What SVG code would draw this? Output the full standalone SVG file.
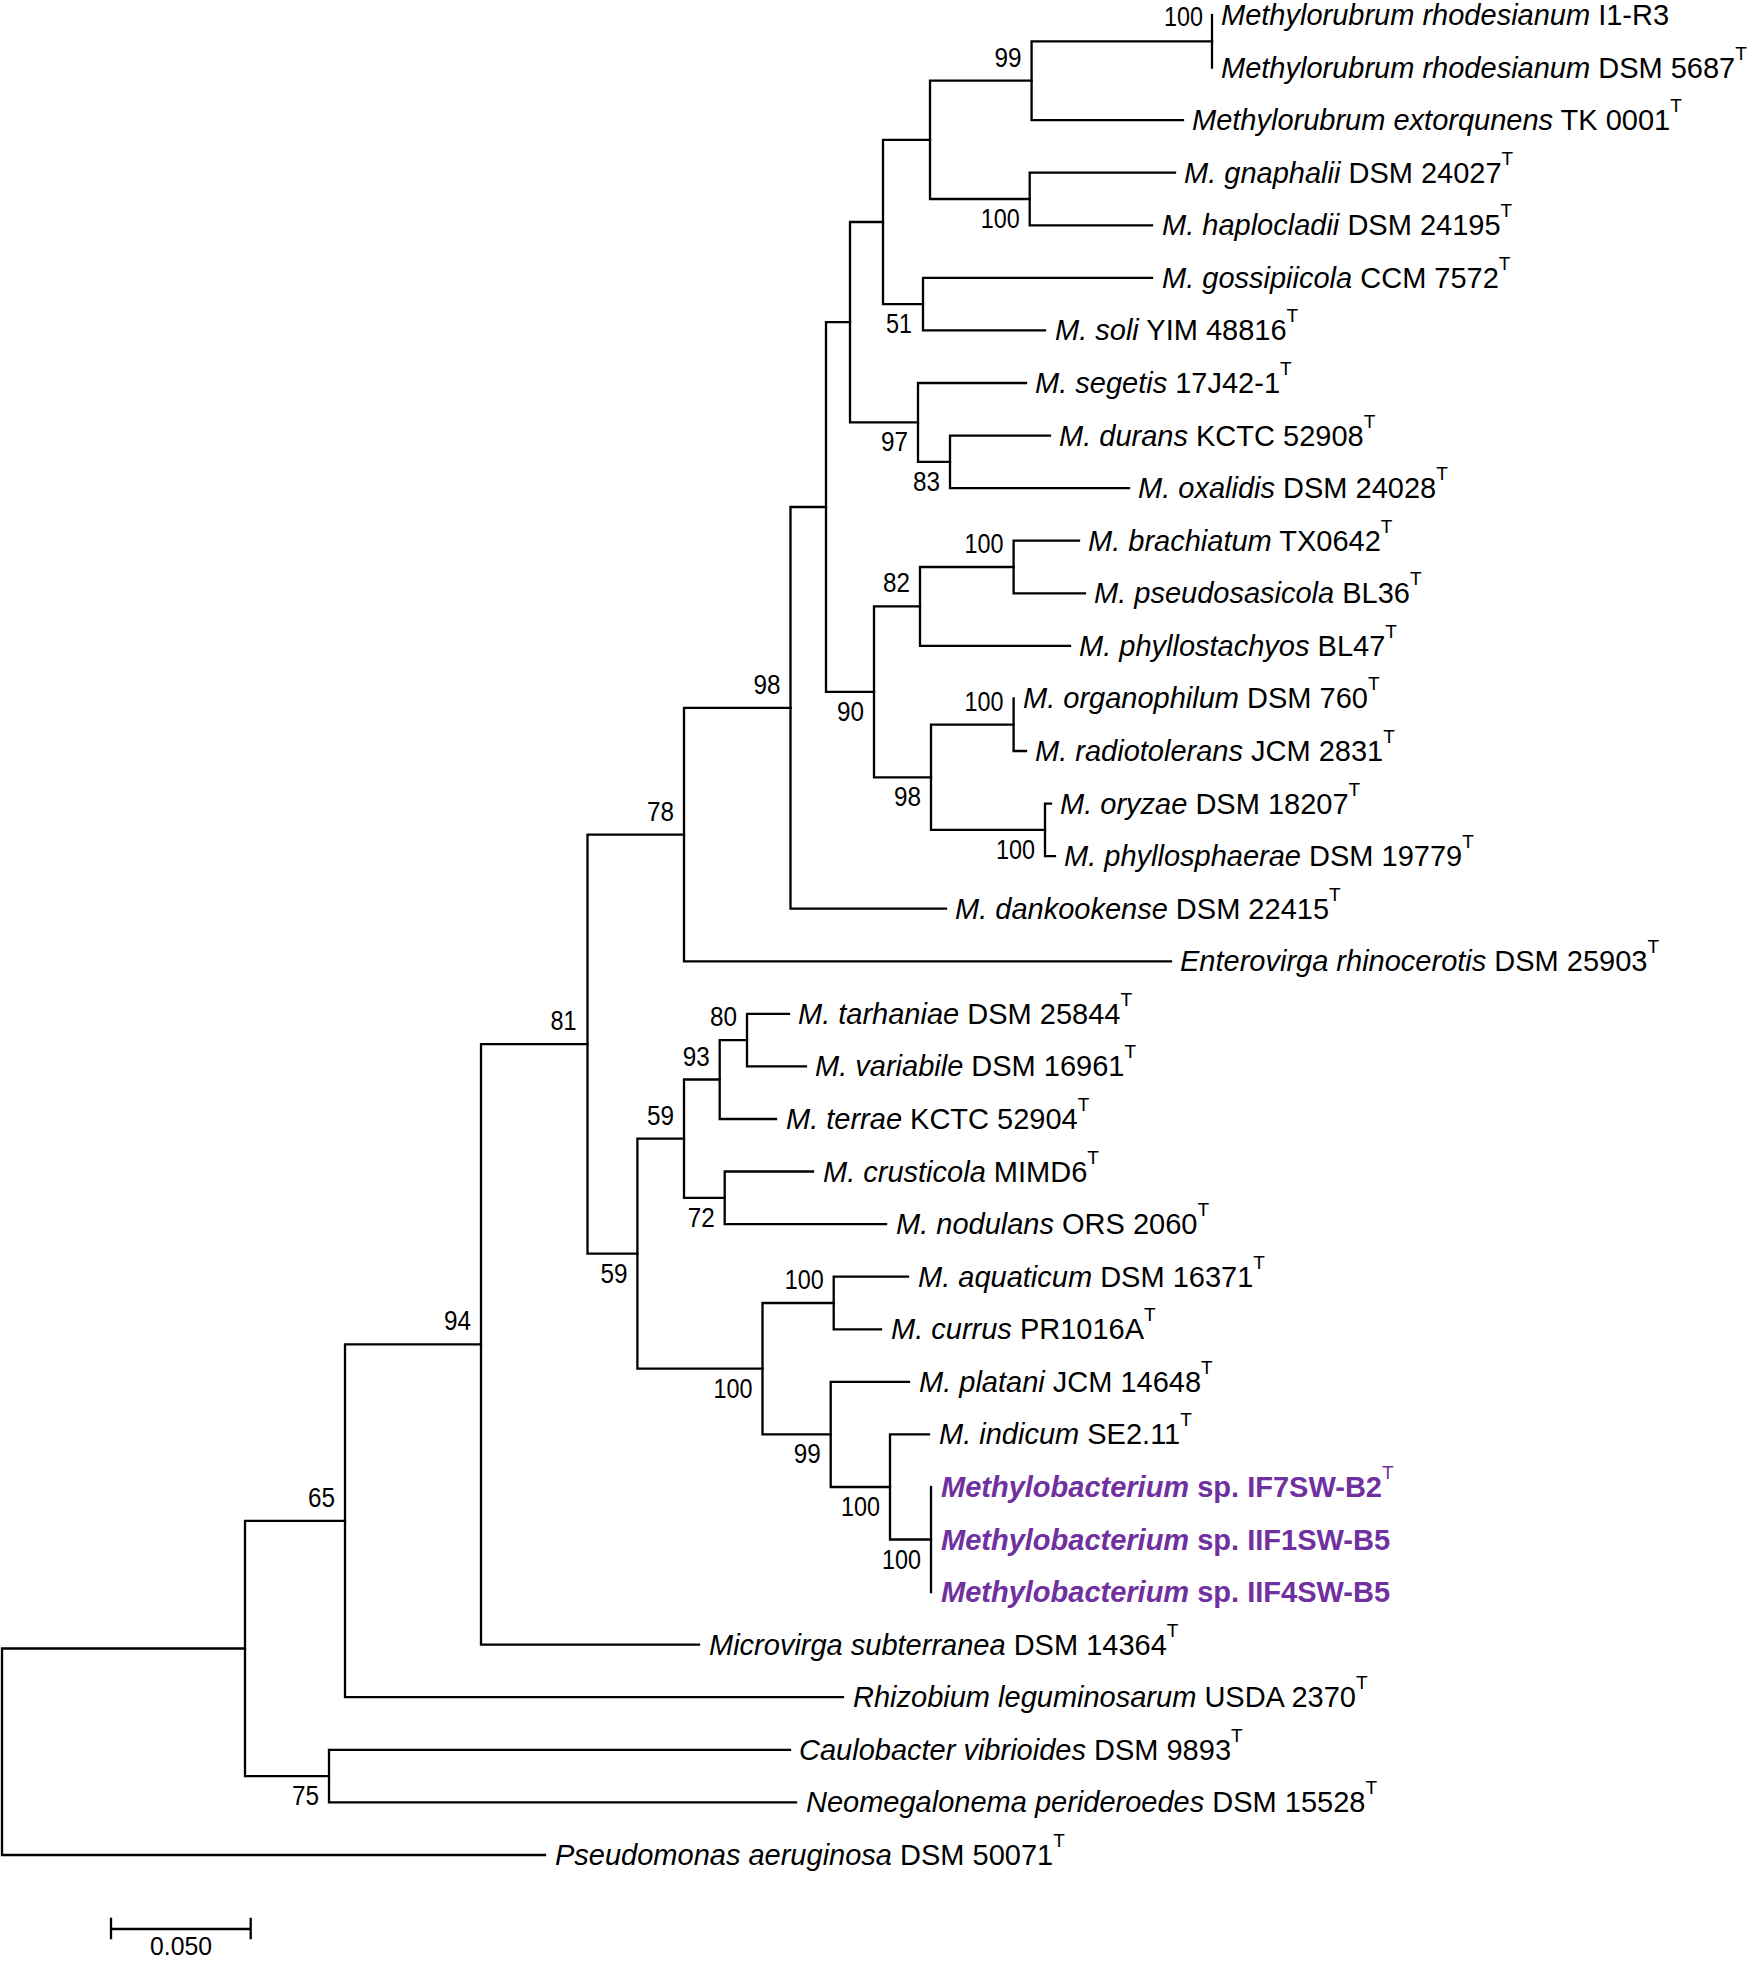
<svg xmlns="http://www.w3.org/2000/svg" width="1747" height="1962" viewBox="0 0 1747 1962">
<style>
.br{fill:none;stroke:#000;stroke-width:2.3;stroke-linecap:square}
.lf{font-family:"Liberation Sans",Arial,sans-serif;font-size:29px;fill:#000}
.i{font-style:italic}
.sup{font-size:19px;font-style:normal;font-weight:normal}
.hl{fill:#7030A0;font-weight:bold}
.bs{font-family:"Liberation Sans",Arial,sans-serif;font-size:28.5px;fill:#000}
</style>
<rect width="1747" height="1962" fill="#fff"/>
<g id="connectors" class="br">
<path d="M2 1648.5V1855M2 1648.5H245M2 1855H545"/>
<path d="M245 1520.8V1776.1M245 1520.8H345M245 1776.1H329"/>
<path d="M345 1344.4V1697.2M345 1344.4H481M345 1697.2H843"/>
<path d="M329 1749.8V1802.4M329 1749.8H790M329 1802.4H796"/>
<path d="M481 1044.2V1644.7M481 1044.2H587.5M481 1644.7H699"/>
<path d="M587.5 834.6V1253.7M587.5 834.6H684M587.5 1253.7H637.4"/>
<path d="M684 707.9V961.3M684 707.9H790.5M684 961.3H1171"/>
<path d="M790.5 507V908.7M790.5 507H826M790.5 908.7H946"/>
<path d="M826 322.2V691.8M826 322.2H850M826 691.8H874"/>
<path d="M850 222V422.4M850 222H883M850 422.4H918"/>
<path d="M883 139.9V304.2M883 139.9H930M883 304.2H923"/>
<path d="M930 80.7V199M930 80.7H1031.6M930 199H1029.7"/>
<path d="M1031.6 41.3V120.1M1031.6 41.3H1212M1031.6 120.1H1183"/>
<path d="M1212 15V67.6"/>
<path d="M1029.7 172.7V225.3M1029.7 172.7H1175M1029.7 225.3H1152"/>
<path d="M923 277.9V330.4M923 277.9H1152M923 330.4H1045"/>
<path d="M918 383V461.9M918 383H1026M918 461.9H950"/>
<path d="M950 435.6V488.1M950 435.6H1050M950 488.1H1129"/>
<path d="M874 606.4V777.3M874 606.4H920M874 777.3H931"/>
<path d="M920 567V645.8M920 567H1013.6M920 645.8H1070"/>
<path d="M1013.6 540.7V593.3M1013.6 540.7H1079M1013.6 593.3H1085"/>
<path d="M931 724.7V829.9M931 724.7H1013.6M931 829.9H1045"/>
<path d="M1013.6 698.4V751M1013.6 751H1026"/>
<path d="M1045 803.6V856.1M1045 803.6H1051M1045 856.1H1055"/>
<path d="M637.4 1138.7V1368.7M637.4 1138.7H684M637.4 1368.7H762.5"/>
<path d="M684 1079.5V1197.8M684 1079.5H719.7M684 1197.8H724.7"/>
<path d="M719.7 1040.1V1119M719.7 1040.1H747M719.7 1119H776"/>
<path d="M747 1013.8V1066.4M747 1013.8H789M747 1066.4H806"/>
<path d="M724.7 1171.5V1224.1M724.7 1171.5H813M724.7 1224.1H886"/>
<path d="M762.5 1303V1434.4M762.5 1303H833.7M762.5 1434.4H830.7"/>
<path d="M833.7 1276.7V1329.3M833.7 1276.7H908M833.7 1329.3H881"/>
<path d="M830.7 1381.8V1487M830.7 1381.8H909M830.7 1487H890"/>
<path d="M890 1434.4V1539.5M890 1434.4H929M890 1539.5H931"/>
<path d="M931 1487V1592.1"/>
</g>
<g id="bootstrap" class="bs">
<text x="1164" y="26" textLength="39" lengthAdjust="spacingAndGlyphs">100</text>
<text x="994.6" y="66.7" textLength="27" lengthAdjust="spacingAndGlyphs">99</text>
<text x="980.7" y="228" textLength="39" lengthAdjust="spacingAndGlyphs">100</text>
<text x="886" y="333.2" textLength="26" lengthAdjust="spacingAndGlyphs">51</text>
<text x="881" y="451.4" textLength="27" lengthAdjust="spacingAndGlyphs">97</text>
<text x="913" y="490.9" textLength="27" lengthAdjust="spacingAndGlyphs">83</text>
<text x="964.6" y="553" textLength="39" lengthAdjust="spacingAndGlyphs">100</text>
<text x="883" y="592.4" textLength="27" lengthAdjust="spacingAndGlyphs">82</text>
<text x="964.6" y="710.7" textLength="39" lengthAdjust="spacingAndGlyphs">100</text>
<text x="996" y="858.9" textLength="39" lengthAdjust="spacingAndGlyphs">100</text>
<text x="894" y="806.3" textLength="27" lengthAdjust="spacingAndGlyphs">98</text>
<text x="837" y="720.8" textLength="27" lengthAdjust="spacingAndGlyphs">90</text>
<text x="753.5" y="693.9" textLength="27" lengthAdjust="spacingAndGlyphs">98</text>
<text x="647" y="820.6" textLength="27" lengthAdjust="spacingAndGlyphs">78</text>
<text x="710" y="1026" textLength="27" lengthAdjust="spacingAndGlyphs">80</text>
<text x="682.7" y="1065.5" textLength="27" lengthAdjust="spacingAndGlyphs">93</text>
<text x="647" y="1124.7" textLength="27" lengthAdjust="spacingAndGlyphs">59</text>
<text x="687.7" y="1226.8" textLength="27" lengthAdjust="spacingAndGlyphs">72</text>
<text x="600.4" y="1282.7" textLength="27" lengthAdjust="spacingAndGlyphs">59</text>
<text x="784.7" y="1289" textLength="39" lengthAdjust="spacingAndGlyphs">100</text>
<text x="713.5" y="1397.7" textLength="39" lengthAdjust="spacingAndGlyphs">100</text>
<text x="793.7" y="1463.4" textLength="27" lengthAdjust="spacingAndGlyphs">99</text>
<text x="841" y="1516" textLength="39" lengthAdjust="spacingAndGlyphs">100</text>
<text x="882" y="1568.5" textLength="39" lengthAdjust="spacingAndGlyphs">100</text>
<text x="550.5" y="1030" textLength="26" lengthAdjust="spacingAndGlyphs">81</text>
<text x="444" y="1330.4" textLength="27" lengthAdjust="spacingAndGlyphs">94</text>
<text x="308" y="1506.8" textLength="27" lengthAdjust="spacingAndGlyphs">65</text>
<text x="292" y="1805" textLength="27" lengthAdjust="spacingAndGlyphs">75</text>
</g>
<g id="taxa" class="lf">
<g id="t1"><text x="1221" y="25"><tspan class="i">Methylorubrum rhodesianum</tspan> I1-R3</text></g>
<g id="t2"><text x="1221" y="77.6"><tspan class="i">Methylorubrum rhodesianum</tspan> DSM 5687<tspan class="sup" dy="-18">T</tspan></text></g>
<g id="t3"><text x="1192" y="130.1"><tspan class="i">Methylorubrum extorqunens</tspan> TK 0001<tspan class="sup" dy="-18">T</tspan></text></g>
<g id="t4"><text x="1184" y="182.7"><tspan class="i">M. gnaphalii</tspan> DSM 24027<tspan class="sup" dy="-18">T</tspan></text></g>
<g id="t5"><text x="1162" y="235.3"><tspan class="i">M. haplocladii</tspan> DSM 24195<tspan class="sup" dy="-18">T</tspan></text></g>
<g id="t6"><text x="1162" y="287.9"><tspan class="i">M. gossipiicola</tspan> CCM 7572<tspan class="sup" dy="-18">T</tspan></text></g>
<g id="t7"><text x="1055" y="340.4"><tspan class="i">M. soli</tspan> YIM 48816<tspan class="sup" dy="-18">T</tspan></text></g>
<g id="t8"><text x="1035" y="393"><tspan class="i">M. segetis</tspan> 17J42-1<tspan class="sup" dy="-18">T</tspan></text></g>
<g id="t9"><text x="1059" y="445.6"><tspan class="i">M. durans</tspan> KCTC 52908<tspan class="sup" dy="-18">T</tspan></text></g>
<g id="t10"><text x="1138" y="498.1"><tspan class="i">M. oxalidis</tspan> DSM 24028<tspan class="sup" dy="-18">T</tspan></text></g>
<g id="t11"><text x="1088" y="550.7"><tspan class="i">M. brachiatum</tspan> TX0642<tspan class="sup" dy="-18">T</tspan></text></g>
<g id="t12"><text x="1094" y="603.3"><tspan class="i">M. pseudosasicola</tspan> BL36<tspan class="sup" dy="-18">T</tspan></text></g>
<g id="t13"><text x="1079" y="655.8"><tspan class="i">M. phyllostachyos</tspan> BL47<tspan class="sup" dy="-18">T</tspan></text></g>
<g id="t14"><text x="1023" y="708.4"><tspan class="i">M. organophilum</tspan> DSM 760<tspan class="sup" dy="-18">T</tspan></text></g>
<g id="t15"><text x="1035" y="761"><tspan class="i">M. radiotolerans</tspan> JCM 2831<tspan class="sup" dy="-18">T</tspan></text></g>
<g id="t16"><text x="1060" y="813.6"><tspan class="i">M. oryzae</tspan> DSM 18207<tspan class="sup" dy="-18">T</tspan></text></g>
<g id="t17"><text x="1064" y="866.1"><tspan class="i">M. phyllosphaerae</tspan> DSM 19779<tspan class="sup" dy="-18">T</tspan></text></g>
<g id="t18"><text x="955" y="918.7"><tspan class="i">M. dankookense</tspan> DSM 22415<tspan class="sup" dy="-18">T</tspan></text></g>
<g id="t19"><text x="1180" y="971.3"><tspan class="i">Enterovirga rhinocerotis</tspan> DSM 25903<tspan class="sup" dy="-18">T</tspan></text></g>
<g id="t20"><text x="798" y="1023.8"><tspan class="i">M. tarhaniae</tspan> DSM 25844<tspan class="sup" dy="-18">T</tspan></text></g>
<g id="t21"><text x="815" y="1076.4"><tspan class="i">M. variabile</tspan> DSM 16961<tspan class="sup" dy="-18">T</tspan></text></g>
<g id="t22"><text x="786" y="1129"><tspan class="i">M. terrae</tspan> KCTC 52904<tspan class="sup" dy="-18">T</tspan></text></g>
<g id="t23"><text x="823" y="1181.5"><tspan class="i">M. crusticola</tspan> MIMD6<tspan class="sup" dy="-18">T</tspan></text></g>
<g id="t24"><text x="896" y="1234.1"><tspan class="i">M. nodulans</tspan> ORS 2060<tspan class="sup" dy="-18">T</tspan></text></g>
<g id="t25"><text x="918" y="1286.7"><tspan class="i">M. aquaticum</tspan> DSM 16371<tspan class="sup" dy="-18">T</tspan></text></g>
<g id="t26"><text x="891" y="1339.3"><tspan class="i">M. currus</tspan> PR1016A<tspan class="sup" dy="-18">T</tspan></text></g>
<g id="t27"><text x="919" y="1391.8"><tspan class="i">M. platani</tspan> JCM 14648<tspan class="sup" dy="-18">T</tspan></text></g>
<g id="t28"><text x="939" y="1444.4"><tspan class="i">M. indicum</tspan> SE2.11<tspan class="sup" dy="-18">T</tspan></text></g>
<g id="t29"><text x="941" y="1497" class="hl"><tspan class="i">Methylobacterium</tspan> sp. IF7SW-B2<tspan class="sup" dy="-18">T</tspan></text></g>
<g id="t30"><text x="941" y="1549.5" class="hl"><tspan class="i">Methylobacterium</tspan> sp. IIF1SW-B5</text></g>
<g id="t31"><text x="941" y="1602.1" class="hl"><tspan class="i">Methylobacterium</tspan> sp. IIF4SW-B5</text></g>
<g id="t32"><text x="709" y="1654.7"><tspan class="i">Microvirga subterranea</tspan> DSM 14364<tspan class="sup" dy="-18">T</tspan></text></g>
<g id="t33"><text x="853" y="1707.2"><tspan class="i">Rhizobium leguminosarum</tspan> USDA 2370<tspan class="sup" dy="-18">T</tspan></text></g>
<g id="t34"><text x="799" y="1759.8"><tspan class="i">Caulobacter vibrioides</tspan> DSM 9893<tspan class="sup" dy="-18">T</tspan></text></g>
<g id="t35"><text x="806" y="1812.4"><tspan class="i">Neomegalonema perideroedes</tspan> DSM 15528<tspan class="sup" dy="-18">T</tspan></text></g>
<g id="t36"><text x="555" y="1865"><tspan class="i">Pseudomonas aeruginosa</tspan> DSM 50071<tspan class="sup" dy="-18">T</tspan></text></g>
</g>
<g id="scale-bar">
<path class="br" d="M111 1929H250.7M111 1919V1938M250.7 1919V1938"/>
<text class="bs" x="150" y="1955" textLength="62" lengthAdjust="spacingAndGlyphs" style="font-size:25px">0.050</text>
</g>
</svg>
